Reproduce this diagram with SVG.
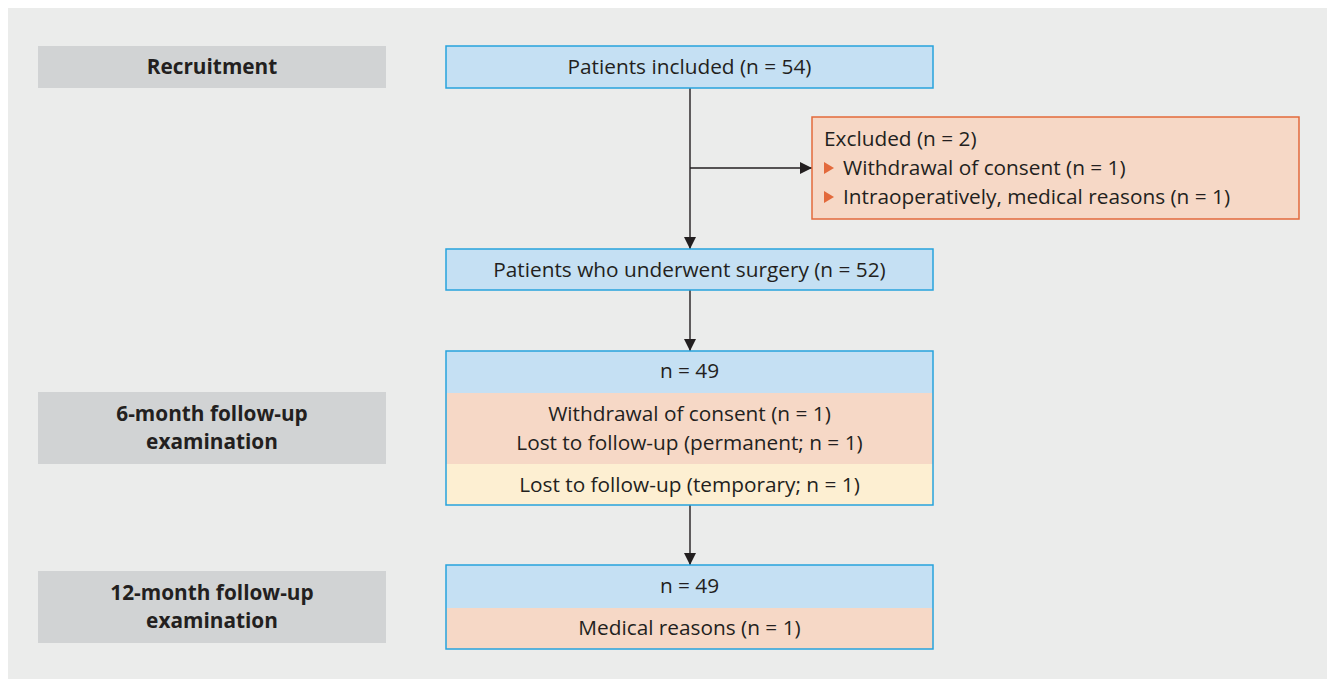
<svg xmlns="http://www.w3.org/2000/svg" width="1335" height="685" viewBox="0 0 1335 685">
<style>
text{font-family:"Open Sans","Noto Sans","Liberation Sans",sans-serif;font-size:20.8px;fill:#231f20}
.lbl{font-weight:bold;text-anchor:middle}
.c{text-anchor:middle}
.gray{fill:#d1d3d4}
.blue{fill:#c5e0f3}
.sal{fill:#f6d8c6}
.yel{fill:#fdefd2}
.bb{fill:none;stroke:#27a3dd;stroke-width:1.5}
.ob{fill:none;stroke:#e3693b;stroke-width:1.5}
.ln{fill:none;stroke:#231f20;stroke-width:1.4}
.bul{fill:#e3693b}
</style>
<defs>
<marker id="ah" markerWidth="12" markerHeight="12" refX="12" refY="6" orient="auto" markerUnits="userSpaceOnUse">
<path d="M0,0 L12,6 L0,12 Z" fill="#231f20"/>
</marker>
</defs>
<rect x="0" y="0" width="1335" height="685" fill="#ffffff"/>
<rect x="8" y="8" width="1319" height="671" fill="#ebeceb"/>

<g id="label-recruitment">
<rect class="gray" x="38" y="46" width="348" height="42"/>
<text class="lbl" x="212" y="74">Recruitment</text>
</g>
<g id="label-6month">
<rect class="gray" x="38" y="392" width="348" height="72"/>
<text class="lbl" x="212" y="421">6-month follow-up</text>
<text class="lbl" x="212" y="449">examination</text>
</g>
<g id="label-12month">
<rect class="gray" x="38" y="571" width="348" height="72"/>
<text class="lbl" x="212" y="600">12-month follow-up</text>
<text class="lbl" x="212" y="628">examination</text>
</g>

<g id="connectors">
<line class="ln" x1="690" y1="88" x2="690" y2="249" marker-end="url(#ah)"/>
<line class="ln" x1="690" y1="168" x2="812" y2="168" marker-end="url(#ah)"/>
<line class="ln" x1="690" y1="290" x2="690" y2="351" marker-end="url(#ah)"/>
<line class="ln" x1="690" y1="505" x2="690" y2="565" marker-end="url(#ah)"/>
</g>

<g id="node-included">
<rect class="blue" x="446" y="46" width="487" height="42"/>
<rect class="bb" x="446" y="46" width="487" height="42"/>
<text class="c" x="689.5" y="74">Patients included (n = 54)</text>
</g>

<g id="node-excluded">
<rect class="sal" x="812" y="117" width="487" height="102"/>
<rect class="ob" x="812" y="117" width="487" height="102"/>
<text x="824" y="146">Excluded (n = 2)</text>
<path class="bul" d="M824,162 L834,168 L824,174 Z"/>
<text x="843" y="175">Withdrawal of consent (n = 1)</text>
<path class="bul" d="M824,191 L834,197 L824,203 Z"/>
<text x="843" y="204">Intraoperatively, medical reasons (n = 1)</text>
</g>

<g id="node-surgery">
<rect class="blue" x="446" y="249" width="487" height="41"/>
<rect class="bb" x="446" y="249" width="487" height="41"/>
<text class="c" x="689.5" y="277">Patients who underwent surgery (n = 52)</text>
</g>

<g id="node-6month">
<rect class="blue" x="446" y="351" width="487" height="42"/>
<rect class="sal" x="446" y="393" width="487" height="71"/>
<rect class="yel" x="446" y="464" width="487" height="41"/>
<rect class="bb" x="446" y="351" width="487" height="154"/>
<text class="c" x="689.5" y="378">n = 49</text>
<text class="c" x="689.5" y="421">Withdrawal of consent (n = 1)</text>
<text class="c" x="689.5" y="450">Lost to follow-up (permanent; n = 1)</text>
<text class="c" x="689.5" y="492">Lost to follow-up (temporary; n = 1)</text>
</g>

<g id="node-12month">
<rect class="blue" x="446" y="565" width="487" height="43"/>
<rect class="sal" x="446" y="608" width="487" height="41"/>
<rect class="bb" x="446" y="565" width="487" height="84"/>
<text class="c" x="689.5" y="593">n = 49</text>
<text class="c" x="689.5" y="635">Medical reasons (n = 1)</text>
</g>
</svg>
